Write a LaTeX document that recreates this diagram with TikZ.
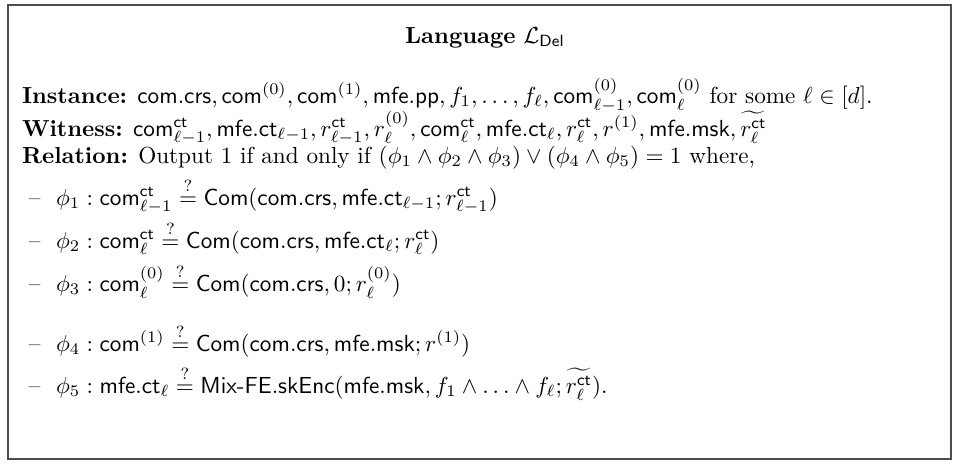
\documentclass[tikz,border=0pt]{standalone}
\usepackage{amsmath}
\usepackage{amssymb}
\usetikzlibrary{positioning,calc}

\newcommand{\sfm}[1]{\mathsf{#1}}
\newcommand{\qeq}{\stackrel{?}{=}}

\begin{document}
\begin{tikzpicture} [x = 0.431pt, y = -0.431pt]
            % Styles
            \tikzstyle{textline}=[anchor=base west, inner sep=0pt, outer sep=0pt]
            \tikzstyle{frame}=[draw=black!70, line width=0.7pt]
            
            % Frame
            \useasboundingbox (0,0) rectangle (959,465);
            \draw[frame] (8,5) rectangle (951,459);
            
            % Title
            \node[anchor=base, inner sep=0pt] (title) at (485,43) {\textbf{Language} $\mathcal{L}_{\sfm{Del}}$};
            
            % Header lines
            \node[textline] (inst) at (22,103) {\textbf{Instance:} $\sfm{com.crs}, \sfm{com}^{(0)}, \sfm{com}^{(1)}, \sfm{mfe.pp}, f_1, \ldots, f_\ell, \sfm{com}^{(0)}_{\ell-1}, \sfm{com}^{(0)}_{\ell}$ for some $\ell \in [d]$.};
            \node[textline] (wit) at (22,136) {\textbf{Witness:} $\sfm{com}^{\sfm{ct}}_{\ell-1}, \sfm{mfe.ct}_{\ell-1}, r^{\sfm{ct}}_{\ell-1}, r^{(0)}_{\ell}, \sfm{com}^{\sfm{ct}}_{\ell}, \sfm{mfe.ct}_{\ell}, r^{\sfm{ct}}_{\ell}, r^{(1)}, \sfm{mfe.msk}, \widetilde{r^{\sfm{ct}}_{\ell}}$};
            \node[textline] (rel) at (22,163) {\textbf{Relation:} Output 1 if and only if $(\phi_1 \wedge \phi_2 \wedge \phi_3) \vee (\phi_4 \wedge \phi_5) = 1$ where,};
            
            % Conditions
            \node[textline] (phi1) at (29,205) {-- \ $\phi_1 : \sfm{com}^{\sfm{ct}}_{\ell-1} \qeq \sfm{Com}(\sfm{com.crs}, \sfm{mfe.ct}_{\ell-1}; r^{\sfm{ct}}_{\ell-1})$};
            \node[textline] (phi2) at (29,248) {-- \ $\phi_2 : \sfm{com}^{\sfm{ct}}_{\ell} \qeq \sfm{Com}(\sfm{com.crs}, \sfm{mfe.ct}_{\ell}; r^{\sfm{ct}}_{\ell})$};
            \node[textline] (phi3) at (29,291) {-- \ $\phi_3 : \sfm{com}^{(0)}_{\ell} \qeq \sfm{Com}(\sfm{com.crs}, 0; r^{(0)}_{\ell})$};
            \node[textline] (phi4) at (29,351) {-- \ $\phi_4 : \sfm{com}^{(1)} \qeq \sfm{Com}(\sfm{com.crs}, \sfm{mfe.msk}; r^{(1)})$};
            \node[textline] (phi5) at (29,393) {-- \ $\phi_5 : \sfm{mfe.ct}_{\ell} \qeq \sfm{Mix\text{-}FE.skEnc}(\sfm{mfe.msk}, f_1 \wedge \ldots \wedge f_\ell; \widetilde{r^{\sfm{ct}}_{\ell}})$.};
        \end{tikzpicture}
\end{document}
